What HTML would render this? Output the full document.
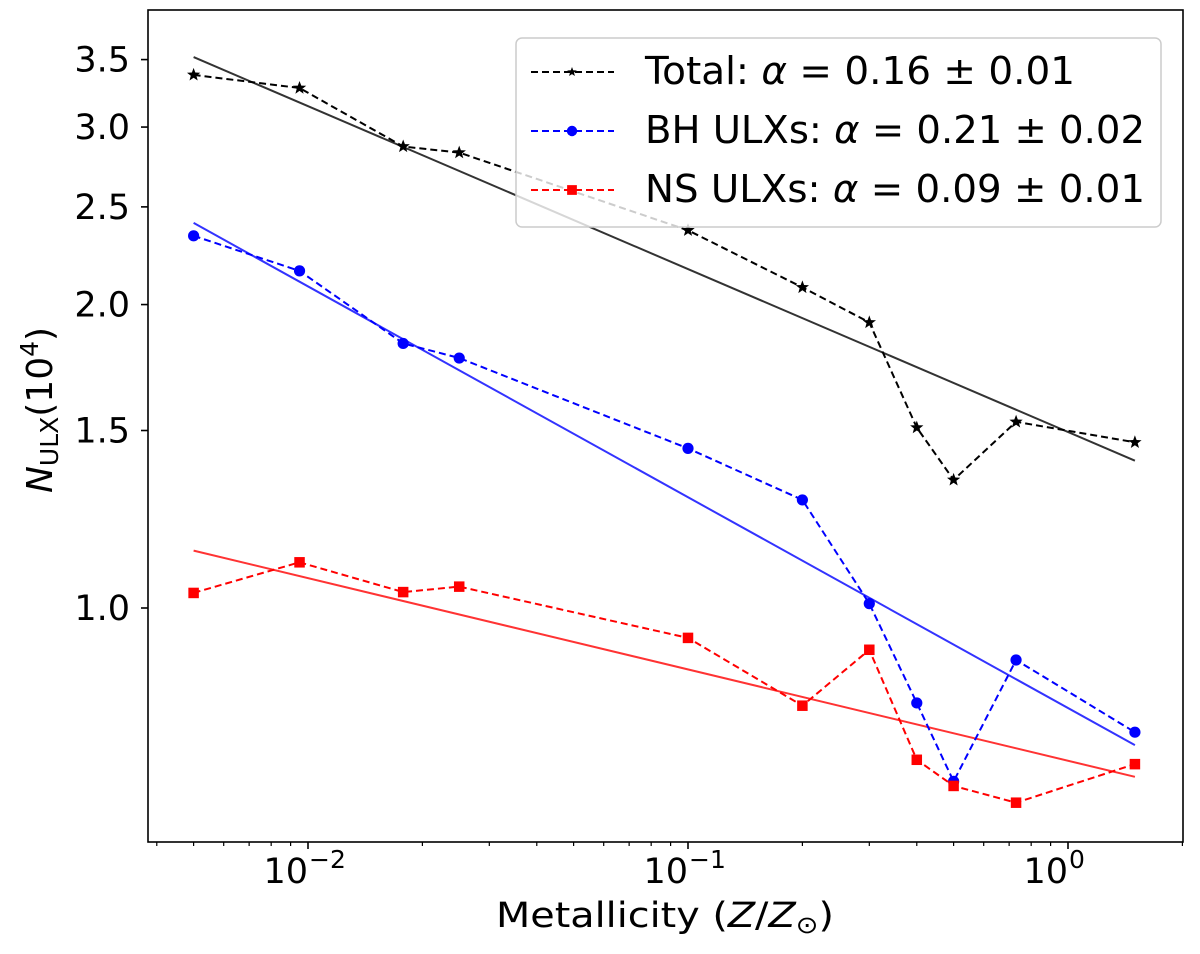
<!DOCTYPE html>
<html><head><meta charset="utf-8"><style>
body{margin:0;background:#fff}
svg{display:block;font-family:"DejaVu Sans","Liberation Sans",sans-serif}
</style></head><body>
<svg id="chart" width="1200" height="954" viewBox="0 0 1200 954" xmlns="http://www.w3.org/2000/svg">
<g id="fits"></g>
<g id="series"></g>
<rect x="148" y="10" width="1035" height="832" fill="none" stroke="#000" stroke-width="1.6"/>
<g id="axes"></g>
<text x="496" y="927" font-size="35" textLength="338" lengthAdjust="spacingAndGlyphs">Metallicity (<tspan font-style="italic">Z</tspan>/<tspan font-style="italic">Z</tspan><tspan font-size="24" dy="6">⊙</tspan><tspan dy="-6">)</tspan></text>
<text transform="translate(52,410) rotate(-90)" font-size="36" text-anchor="middle"><tspan font-style="italic">N</tspan><tspan font-size="25" dy="6">ULX</tspan><tspan dy="-6">(10</tspan><tspan font-size="25" dy="-14">4</tspan><tspan dy="14">)</tspan></text>
<g id="legend">
<rect x="516" y="38" width="645" height="189" rx="6" fill="#fff" fill-opacity="0.8" stroke="#ccc" stroke-width="1.5"/>
</g>
</svg>
<script>
const categories = [0.005, 0.0095, 0.0178, 0.025, 0.1, 0.2, 0.3, 0.4, 0.5, 0.73, 1.5];
const totalValues = [3.38, 3.28, 2.87, 2.83, 2.37, 2.08, 1.92, 1.51, 1.34, 1.53, 1.46];
const bhValues = [2.34, 2.16, 1.83, 1.77, 1.44, 1.28, 1.01, 0.805, 0.673, 0.888, 0.753];
const nsValues = [1.035, 1.11, 1.037, 1.05, 0.934, 0.80, 0.909, 0.707, 0.666, 0.641, 0.70];
const fitX = [0.005, 1.5];
const totalFit = [3.52, 1.40];
const bhFit = [2.41, 0.731];
const nsFit = [1.14, 0.68];
const yTicks = [1.0, 1.5, 2.0, 2.5, 3.0, 3.5];
const yTickLabels = ["1.0", "1.5", "2.0", "2.5", "3.0", "3.5"];
const xMajor = [-2, -1, 0];
const legendLabels = ["Total: ", "BH ULXs: ", "NS ULXs: "];
const legendAlpha = ["0.16 ± 0.01", "0.21 ± 0.02", "0.09 ± 0.01"];

const NS = "http://www.w3.org/2000/svg";
const X0 = 688, XDEC = 380, Y0 = 608, YDEC = 1008;
function xs(v){ return X0 + XDEC * (Math.log10(v) + 1); }
function ys(v){ return Y0 - YDEC * Math.log10(v); }
function mk(tag, attrs, parent){ const e = document.createElementNS(NS, tag); for (const k in attrs) e.setAttribute(k, attrs[k]); parent.appendChild(e); return e; }

const fits = document.getElementById('fits');
const series = document.getElementById('series');
const axes = document.getElementById('axes');
const legend = document.getElementById('legend');

function marker(type, x, y, color, parent, s){
  let m;
  if (type === 'star') {
    let pts = [];
    for (let i = 0; i < 10; i++) { const r = i % 2 ? s*0.42 : s; const a = -Math.PI/2 + i*Math.PI/5; pts.push((x + r*Math.cos(a)).toFixed(1) + ',' + (y + r*Math.sin(a)).toFixed(1)); }
    m = mk('polygon', {points: pts.join(' '), fill: color}, parent);
  } else if (type === 'circle') {
    m = mk('circle', {cx: x, cy: y, r: s*0.8, fill: color}, parent);
  } else {
    m = mk('rect', {x: x - s*0.75, y: y - s*0.75, width: s*1.5, height: s*1.5, fill: color}, parent);
  }
  return m;
}

const fitDefs = [[totalFit, '#333', 'fit-total'], [bhFit, '#3333ff', 'fit-bh'], [nsFit, '#ff3333', 'fit-ns']];
fitDefs.forEach(d => {
  const l = mk('line', {x1: xs(fitX[0]), y1: ys(d[0][0]), x2: xs(fitX[1]), y2: ys(d[0][1]), stroke: d[1], 'stroke-width': 2}, fits);
  
  
});

const serDefs = [[totalValues, '#000', 'star', 'total'], [bhValues, '#0000ff', 'circle', 'bh'], [nsValues, '#ff0000', 'square', 'ns']];
serDefs.forEach(d => {
  const pts = categories.map((c, i) => xs(c).toFixed(1) + ',' + ys(d[0][i]).toFixed(1)).join(' ');
  const pl = mk('polyline', {points: pts, fill: 'none', stroke: d[1], 'stroke-width': 2, 'stroke-dasharray': '7,4'}, series);
  
  
  categories.forEach((c, i) => {
    const m = marker(d[2], xs(c), ys(d[0][i]), d[1], series, 7);
    
    
  });
});

yTicks.forEach((t, i) => {
  const y = ys(t);
  const l = mk('line', {x1: 141, y1: y, x2: 148, y2: y, stroke: '#000', 'stroke-width': 1.6}, axes);
  
  
  const tx = mk('text', {x: 130, y: y + 12, 'font-size': 35, 'text-anchor': 'end'}, axes);
  tx.textContent = yTickLabels[i];
  
  
});
for (let e = -3; e <= 0; e++) {
  for (let k = 1; k <= 9; k++) {
    const v = k * Math.pow(10, e);
    const x = xs(v);
    if (x < 148 || x > 1183) continue;
    const major = k === 1;
    const l = mk('line', {x1: x, y1: 842, x2: x, y2: major ? 849 : 846, stroke: '#000', 'stroke-width': major ? 1.6 : 1.2}, axes);
    
    
  }
}
xMajor.forEach(e => {
  const x = xs(Math.pow(10, e));
  const t = mk('text', {x: x, y: 883, 'font-size': 35, 'text-anchor': 'end'}, axes);
  t.textContent = '10';
  
  
  const s = mk('text', {x: x + 1, y: 868, 'font-size': 25, 'text-anchor': 'start'}, axes);
  s.textContent = e === 0 ? '0' : '−' + Math.abs(e);
  
  
});

const rowsY = [72, 131, 190];
const legendWidths = [430, 500, 500];
serDefs.forEach((d, i) => {
  const y = rowsY[i];
  const l = mk('line', {x1: 531, y1: y, x2: 614, y2: y, stroke: d[1], 'stroke-width': 2, 'stroke-dasharray': '7,4'}, legend);
  
  
  const m = marker(d[2], 572, y, d[1], legend, d[2] === 'star' ? 5 : 6.5);
  
  
  const t = mk('text', {x: 645, y: y + 12, 'font-size': 38, textLength: legendWidths[i], lengthAdjust: 'spacingAndGlyphs'}, legend);
  
  
  const a = document.createElementNS(NS, 'tspan'); a.textContent = legendLabels[i]; t.appendChild(a);
  const b = document.createElementNS(NS, 'tspan'); b.setAttribute('font-style', 'italic'); b.textContent = 'α'; t.appendChild(b);
  const c = document.createElementNS(NS, 'tspan'); c.textContent = ' = ' + legendAlpha[i]; t.appendChild(c);
});
</script>
</body></html>
